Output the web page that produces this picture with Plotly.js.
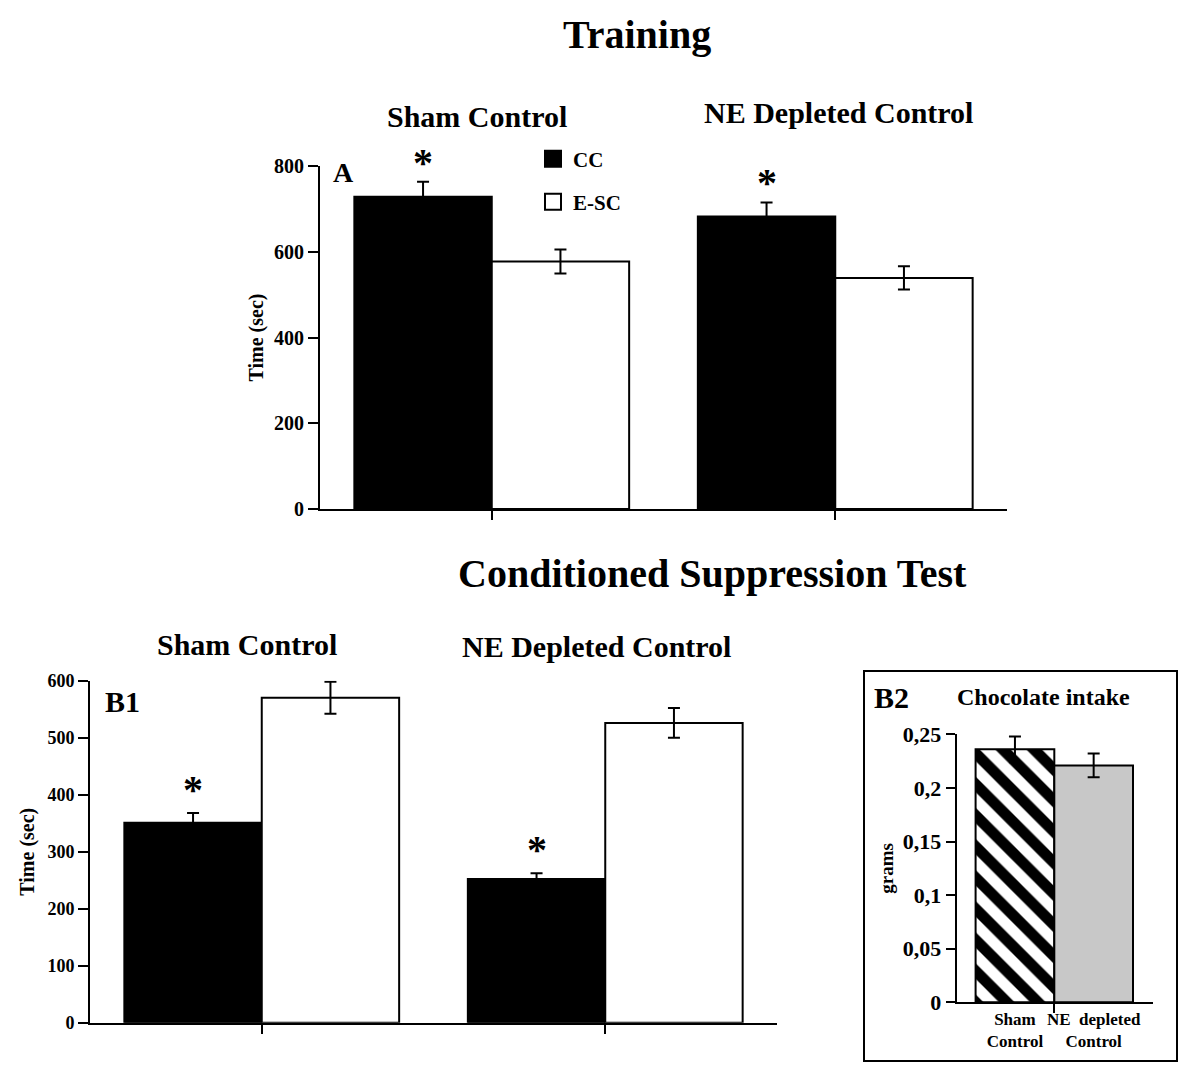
<!DOCTYPE html>
<html>
<head>
<meta charset="utf-8">
<script src="https://cdn.plot.ly/plotly-3.0.1.min.js"></script>
<style>html,body{margin:0;padding:0;background:#fff;}#chart{width:1200px;height:1087px;}</style>
</head>
<body>
<div id="chart"></div>
<script>
// ---- data ----
const groups = ['Sham Control', 'NE Depleted Control'];
const trainCC = [728, 682];
const trainCCErr = [35, 33];
const trainESC = [577, 539];
const trainESCErr = [28, 27];
const testCC = [351, 252];
const testCCErr = [17, 10];
const testESC = [570, 526];
const testESCErr = [28, 26];
const intakeGroups = ['Sham Control', 'NE depleted Control'];
const intakeTickText = ['Sham<br>Control', 'NE  depleted<br>Control'];
const intake = [0.236, 0.221];
const intakeErr = [0.012, 0.011];
const intakeTickVals = [0, 0.05, 0.1, 0.15, 0.2, 0.25];
const intakeTickLabels = ['0', '0,05', '0,1', '0,15', '0,2', '0,25'];
const seriesNames = ['CC', 'E-SC'];

// ---- helpers / styles ----
const W = 1200, H = 1087;
const px = v => v / W;
const py = v => 1 - v / H;
const FAM = 'Liberation Serif, Times New Roman, serif';
const f = (size) => ({family: FAM, size: size, color: 'black', weight: 700});
const intakeFill = ['white', '#c8c8c8'];
const intakePattern = ['\\', ''];

function barTrace(xv, yv, err, fill, xa, ya) {
  return {
    type: 'bar', x: xv, y: yv, xaxis: xa, yaxis: ya, showlegend: false,
    marker: {color: fill, line: {color: 'black', width: 2}},
    error_y: {type: 'data', array: err, visible: true, color: 'black', thickness: 2, width: 6},
    hoverinfo: 'skip'
  };
}

const traces = [
  barTrace(groups, trainCC, trainCCErr, 'black', 'x', 'y'),
  barTrace(groups, trainESC, trainESCErr, 'white', 'x', 'y'),
  barTrace(groups, testCC, testCCErr, 'black', 'x2', 'y2'),
  barTrace(groups, testESC, testESCErr, 'white', 'x2', 'y2')
];

intakeGroups.forEach((g, i) => {
  const marker = {color: intakeFill[i], line: {color: 'black', width: 2}};
  if (intakePattern[i]) {
    marker.pattern = {shape: intakePattern[i], fgcolor: 'black', bgcolor: intakeFill[i], size: 22, solidity: 0.5};
  }
  traces.push({
    type: 'bar', name: g, x: [i], y: [intake[i]], xaxis: 'x3', yaxis: 'y3',
    width: 1, offset: -0.5, showlegend: false, hoverinfo: 'skip', marker: marker,
    error_y: {type: 'data', array: [intakeErr[i]], visible: true, color: 'black', thickness: 2, width: 6}
  });
});

traces.push(
  {
    type: 'scatter', mode: 'markers', x: [null], y: [null], xaxis: 'x', yaxis: 'y',
    name: seriesNames[0], legend: 'legend', showlegend: true,
    marker: {symbol: 'square', size: 18, color: 'black', line: {color: 'black', width: 2}}
  },
  {
    type: 'scatter', mode: 'markers', x: [null], y: [null], xaxis: 'x', yaxis: 'y',
    name: seriesNames[1], legend: 'legend2', showlegend: true,
    marker: {symbol: 'square', size: 18, color: 'white', line: {color: 'black', width: 2}}
  }
);

const xBase = {
  showline: true, linecolor: 'black', linewidth: 2, ticks: 'outside', ticklen: 9, tickwidth: 2,
  tickcolor: 'black', showgrid: false, zeroline: false, fixedrange: true
};
const yBase = {
  showline: true, linecolor: 'black', linewidth: 2, ticks: 'outside', ticklen: 10, tickwidth: 2,
  tickcolor: 'black', showgrid: false, zeroline: false, fixedrange: true
};

const layout = {
  width: W, height: H,
  margin: {l: 0, r: 0, t: 0, b: 0},
  paper_bgcolor: 'white', plot_bgcolor: 'rgba(0,0,0,0)',
  barmode: 'group', bargap: 0.2, bargroupgap: 0,
  font: f(16),
  xaxis: Object.assign({}, xBase, {domain: [px(320), px(1007)], anchor: 'y', type: 'category', range: [-0.5, 1.5], showticklabels: false}),
  yaxis: Object.assign({}, yBase, {domain: [py(509), py(166)], anchor: 'x', range: [0, 800], dtick: 200, tickfont: f(20),
    title: {text: 'Time (sec)', font: f(20), standoff: 5}}),
  xaxis2: Object.assign({}, xBase, {domain: [px(90), px(777)], anchor: 'y2', type: 'category', range: [-0.5, 1.5], showticklabels: false}),
  yaxis2: Object.assign({}, yBase, {domain: [py(1022.7), py(680.7)], anchor: 'x2', range: [0, 600], dtick: 100, tickfont: f(18),
    title: {text: 'Time (sec)', font: f(20), standoff: 7}}),
  xaxis3: Object.assign({}, xBase, {domain: [px(956.7), px(1152.7)], anchor: 'y3', type: 'linear', range: [-0.74, 1.75],
    tickmode: 'array', tickvals: intakeGroups.map((g, i) => i), ticktext: intakeTickText, ticks: '', tickangle: 0, tickfont: f(17),
    minor: {tickmode: 'array', tickvals: [0.5], ticks: 'outside', ticklen: 9, tickwidth: 2, tickcolor: 'black', showgrid: false}}),
  yaxis3: Object.assign({}, yBase, {domain: [py(1002.3), py(734.3)], anchor: 'x3', range: [0, 0.25], ticklen: 9,
    tickmode: 'array', tickvals: intakeTickVals, ticktext: intakeTickLabels, tickfont: f(22),
    title: {text: 'grams', font: f(19), standoff: 4}}),
  legend: {x: px(533), y: py(159), xanchor: 'left', yanchor: 'middle', font: f(21), bgcolor: 'rgba(0,0,0,0)', itemsizing: 'trace'},
  legend2: {x: px(533), y: py(202), xanchor: 'left', yanchor: 'middle', font: f(21), bgcolor: 'rgba(0,0,0,0)', itemsizing: 'trace'},
  shapes: [
    {type: 'rect', xref: 'paper', yref: 'paper', x0: px(864), x1: px(1177), y0: py(1061), y1: py(671),
     line: {color: 'black', width: 2}, fillcolor: 'rgba(0,0,0,0)'}
  ],
  annotations: []
};

function addText(text, x, y, size) {
  layout.annotations.push({text: text, xref: 'paper', yref: 'paper', x: px(x), y: py(y),
    xanchor: 'center', yanchor: 'middle', showarrow: false, font: f(size)});
}
addText('Training', 637, 35, 40);
addText(groups[0], 477, 116, 30);
addText(groups[1], 838, 113, 30);
addText('A', 343, 173, 28);
addText('Conditioned Suppression Test', 712, 573, 40);
addText(groups[0], 247, 644, 30);
addText(groups[1], 596, 646, 30);
addText('B1', 122, 701, 30);
addText('B2', 891, 697, 30);
addText('Chocolate intake', 1043, 697, 24);

// significance asterisks above CC bars (group offset = (1 - bargap) / 4)
const off = (1 - layout.bargap) / 4;
groups.forEach((g, i) => {
  layout.annotations.push({text: '*', xref: 'x', yref: 'y', x: i - off, y: trainCC[i] + trainCCErr[i],
    xanchor: 'center', yanchor: 'bottom', showarrow: false, font: f(40), yshift: -5});
  layout.annotations.push({text: '*', xref: 'x2', yref: 'y2', x: i - off, y: testCC[i] + testCCErr[i],
    xanchor: 'center', yanchor: 'bottom', showarrow: false, font: f(40), yshift: -1});
});

Plotly.newPlot('chart', traces, layout, {displayModeBar: false, staticPlot: true});
</script>
</body>
</html>
